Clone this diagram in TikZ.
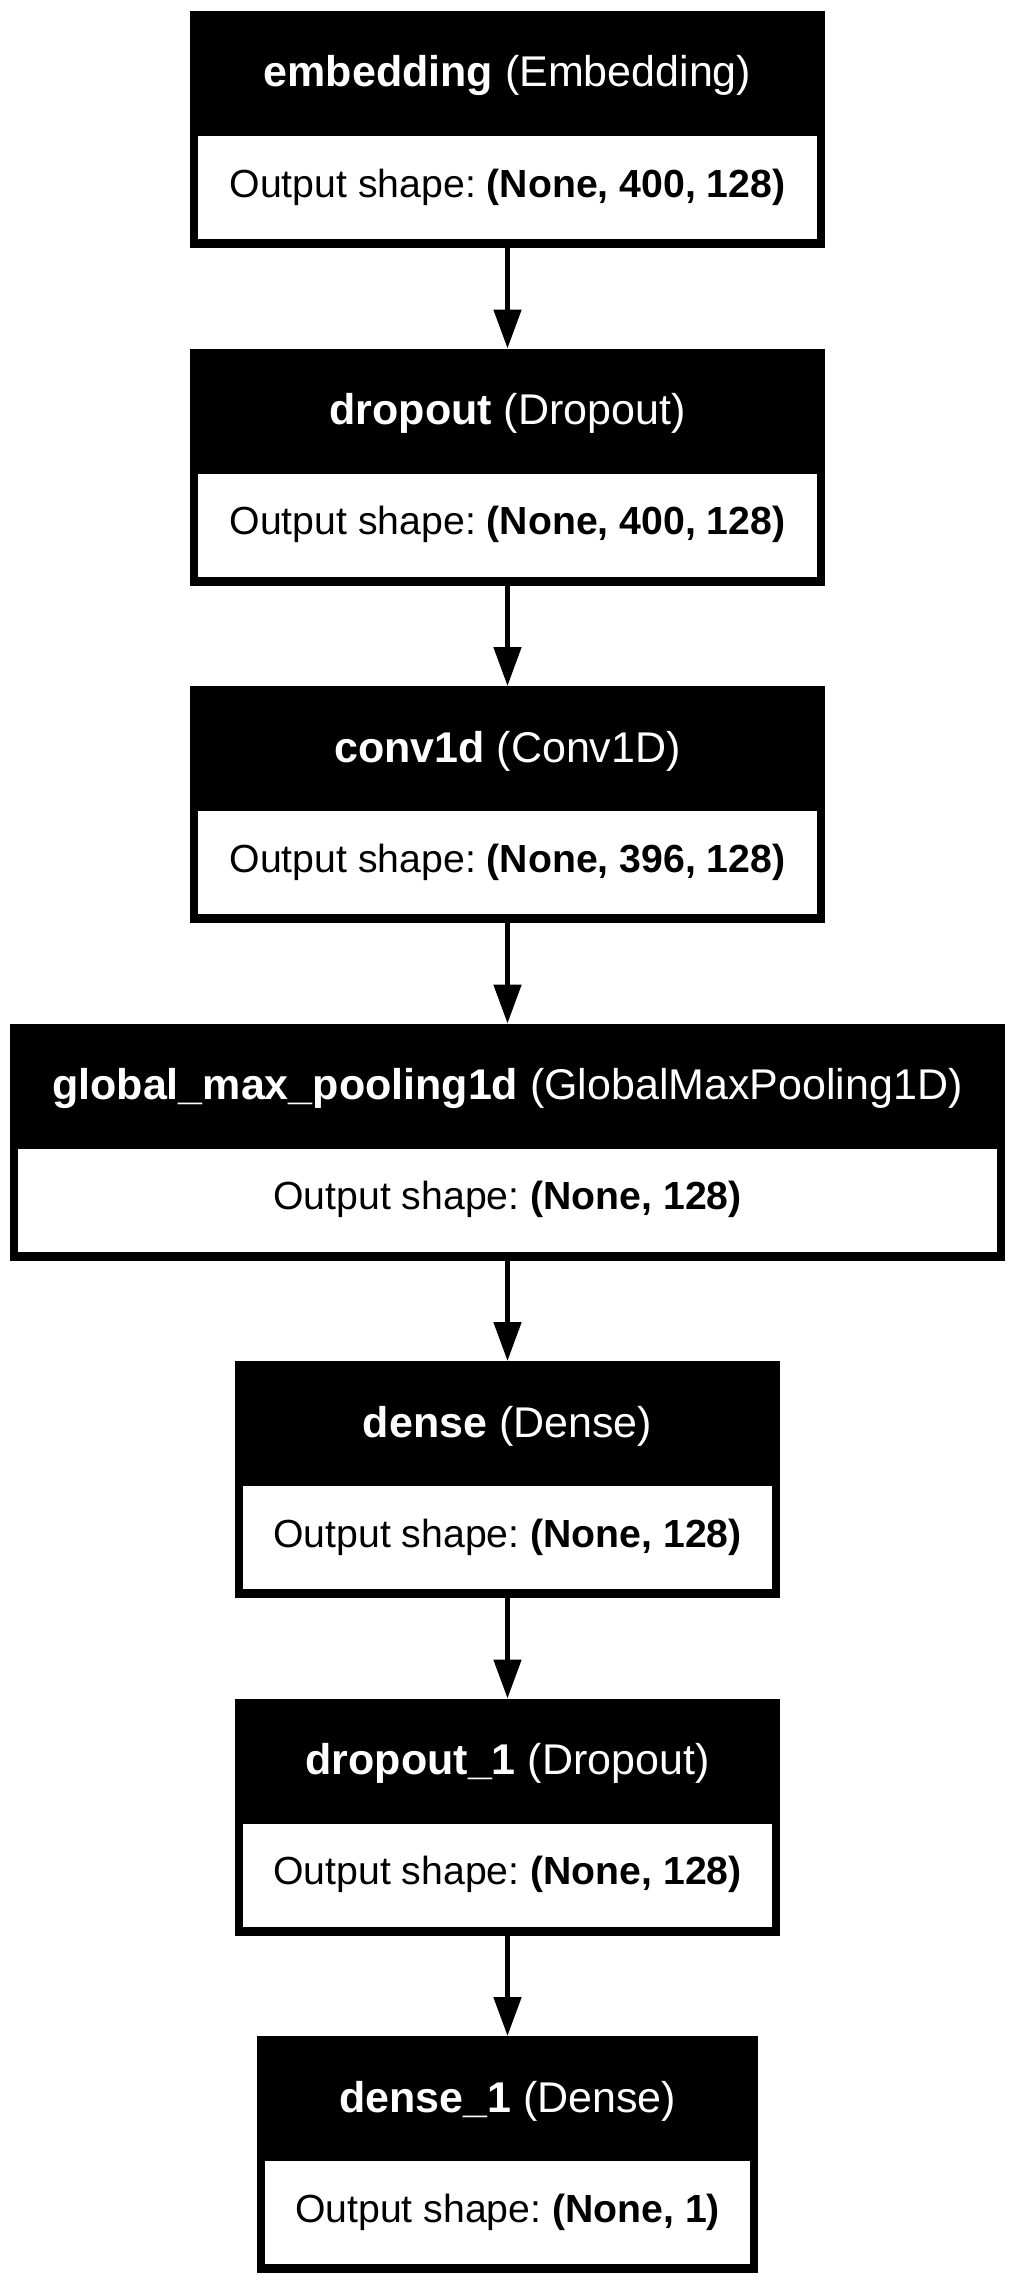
\documentclass[tikz,border=0pt]{standalone}
\usepackage{fontspec}
\setmainfont{Liberation Sans}
\usetikzlibrary{arrows.meta,calc}
\frenchspacing
\tikzset{
 layerbox/.style={fill=black, draw=none, inner sep=0pt, outer sep=0pt, minimum height=237pt},
 hdrtext/.style={text=white, anchor=base, inner sep=0pt, font=\fontsize{43}{50}\selectfont},
 bodytext/.style={text=black, anchor=base, inner sep=0pt, font=\fontsize{39.2}{45}\selectfont},
 flow/.style={line width=5pt, -{Triangle[length=39pt,width=27pt]}}
}
\newcommand\mklayer[5]{%
 \node[layerbox, minimum width=#3pt] (#1) at (507.5,#2+118.5) {};
 \fill[white] ($(#1.north west)+(8,125)$) rectangle ($(#1.south east)+(-8,-9)$);
 \node[hdrtext] (#1h) at (507.5,#2+76) {#4};
 \node[bodytext] (#1b) at (507.5,#2+186) {#5};
}
\begin{document}
\begin{tikzpicture}[x=1pt,y=-1pt]
\useasboundingbox[fill=white] (0,0) rectangle (1015,2285);
\mklayer{l1}{11}{635}{\textbf{embedding} (Embedding)}{Output shape: \textbf{(None, 400, 128)}}
\mklayer{l2}{348.5}{635}{\textbf{dropout} (Dropout)}{Output shape: \textbf{(None, 400, 128)}}
\mklayer{l3}{686}{635}{\textbf{conv1d} (Conv1D)}{Output shape: \textbf{(None, 396, 128)}}
\mklayer{l4}{1023.5}{995}{\textbf{global\_max\_pooling1d} (GlobalMaxPooling1D)}{Output shape: \textbf{(None, 128)}}
\mklayer{l5}{1361}{545}{\textbf{dense} (Dense)}{Output shape: \textbf{(None, 128)}}
\mklayer{l6}{1698.5}{545}{\textbf{dropout\_1} (Dropout)}{Output shape: \textbf{(None, 128)}}
\mklayer{l7}{2036}{501}{\textbf{dense\_1} (Dense)}{Output shape: \textbf{(None, 1)}}
\draw[flow] (l1.south) -- (l2.north);
\draw[flow] (l2.south) -- (l3.north);
\draw[flow] (l3.south) -- (l4.north);
\draw[flow] (l4.south) -- (l5.north);
\draw[flow] (l5.south) -- (l6.north);
\draw[flow] (l6.south) -- (l7.north);
\end{tikzpicture}
\end{document}
